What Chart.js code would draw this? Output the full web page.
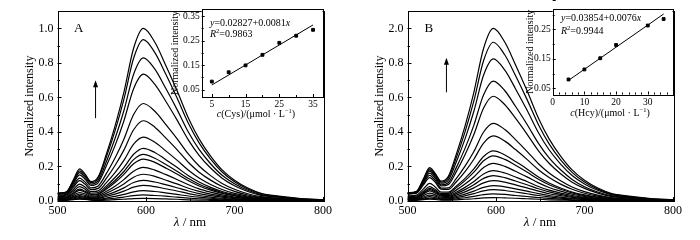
<!DOCTYPE html>
<html>
<head>
<meta charset="utf-8">
<script src="https://cdn.jsdelivr.net/npm/chart.js@4.4.1/dist/chart.umd.min.js"></script>
<style>
  body { margin: 0; background: #fff; }
  #wrap { position: relative; width: 700px; height: 240px; }
  canvas { position: absolute; top: 0; }
</style>
</head>
<body>
<div id="wrap">
  <canvas id="mainA" width="350" height="240" style="left:0"></canvas>
  <canvas id="mainB" width="350" height="240" style="left:350px"></canvas>
  <canvas id="insetA" width="180" height="120" style="left:150px"></canvas>
  <canvas id="insetB" width="180" height="120" style="left:500px"></canvas>
</div>
<script>
// emission wavelengths (nm), shared by every spectrum
const wavelength = [500, 510, 518, 525, 531, 538, 546, 555, 565, 575, 586, 597, 610, 622, 635, 648, 660, 673, 686, 700, 715, 730, 750, 775, 800];

// panel A: spectra with increasing Cys
const spectraCys = [
  [0.045,0.052,0.123,0.186,0.157,0.112,0.140,0.268,0.434,0.629,0.885,1.000,0.920,0.790,0.640,0.480,0.360,0.260,0.180,0.120,0.075,0.045,0.028,0.014,0.007],
  [0.045,0.052,0.117,0.175,0.148,0.106,0.132,0.252,0.406,0.589,0.827,0.935,0.860,0.739,0.598,0.449,0.337,0.243,0.168,0.112,0.070,0.042,0.026,0.013,0.007],
  [0.044,0.050,0.110,0.164,0.137,0.098,0.119,0.225,0.362,0.523,0.735,0.830,0.764,0.656,0.531,0.398,0.299,0.216,0.149,0.100,0.062,0.037,0.023,0.012,0.006],
  [0.042,0.048,0.102,0.151,0.127,0.090,0.107,0.201,0.321,0.464,0.651,0.735,0.676,0.581,0.470,0.353,0.265,0.191,0.132,0.088,0.055,0.033,0.021,0.010,0.005],
  [0.040,0.045,0.091,0.133,0.111,0.076,0.087,0.157,0.249,0.358,0.501,0.565,0.520,0.446,0.362,0.271,0.203,0.147,0.102,0.068,0.042,0.025,0.016,0.008,0.004],
  [0.035,0.039,0.081,0.118,0.098,0.066,0.073,0.130,0.206,0.295,0.413,0.465,0.428,0.367,0.298,0.223,0.167,0.121,0.084,0.056,0.035,0.021,0.013,0.007,0.003],
  [0.030,0.034,0.067,0.098,0.081,0.054,0.059,0.105,0.164,0.235,0.329,0.370,0.340,0.292,0.237,0.178,0.133,0.096,0.067,0.044,0.028,0.017,0.010,0.005,0.003],
  [0.025,0.028,0.057,0.083,0.069,0.045,0.049,0.086,0.136,0.194,0.271,0.305,0.281,0.241,0.195,0.146,0.110,0.079,0.055,0.037,0.023,0.014,0.009,0.004,0.002],
  [0.020,0.023,0.047,0.069,0.057,0.038,0.042,0.076,0.119,0.171,0.240,0.270,0.248,0.213,0.173,0.130,0.097,0.070,0.049,0.032,0.020,0.012,0.008,0.004,0.002],
  [0.018,0.020,0.042,0.062,0.051,0.034,0.038,0.068,0.107,0.154,0.216,0.243,0.224,0.192,0.156,0.117,0.087,0.063,0.044,0.029,0.018,0.011,0.007,0.003,0.002],
  [0.015,0.017,0.034,0.049,0.041,0.028,0.031,0.055,0.086,0.124,0.173,0.195,0.179,0.154,0.125,0.094,0.070,0.051,0.035,0.023,0.015,0.009,0.005,0.003,0.001],
  [0.012,0.013,0.027,0.039,0.033,0.022,0.025,0.044,0.069,0.099,0.138,0.155,0.143,0.122,0.099,0.074,0.056,0.040,0.028,0.019,0.012,0.007,0.004,0.002,0.001],
  [0.010,0.011,0.022,0.031,0.026,0.018,0.019,0.034,0.053,0.076,0.107,0.120,0.110,0.095,0.077,0.058,0.043,0.031,0.022,0.014,0.009,0.005,0.003,0.002,0.001],
  [0.008,0.009,0.018,0.025,0.021,0.014,0.015,0.026,0.040,0.057,0.080,0.090,0.083,0.071,0.058,0.043,0.032,0.023,0.016,0.011,0.007,0.004,0.003,0.001,0.001],
  [0.006,0.007,0.013,0.019,0.016,0.010,0.010,0.017,0.027,0.038,0.053,0.060,0.055,0.047,0.038,0.029,0.022,0.016,0.011,0.007,0.005,0.003,0.002,0.001,0.000],
  [0.005,0.006,0.010,0.014,0.012,0.007,0.007,0.011,0.016,0.023,0.031,0.035,0.032,0.028,0.022,0.017,0.013,0.009,0.006,0.004,0.003,0.002,0.001,0.000,0.000],
  [0.004,0.004,0.008,0.011,0.009,0.005,0.004,0.005,0.008,0.010,0.014,0.015,0.014,0.012,0.010,0.007,0.005,0.004,0.003,0.002,0.001,0.001,0.000,0.000,0.000]
];

// panel B: spectra with increasing Hcy
const spectraHcy = [
  [0.048,0.055,0.128,0.193,0.162,0.115,0.141,0.269,0.434,0.630,0.885,1.000,0.920,0.790,0.640,0.480,0.360,0.260,0.180,0.120,0.075,0.045,0.028,0.014,0.007],
  [0.047,0.054,0.124,0.187,0.156,0.109,0.132,0.249,0.401,0.580,0.814,0.920,0.846,0.727,0.589,0.442,0.331,0.239,0.166,0.110,0.069,0.041,0.026,0.013,0.006],
  [0.046,0.053,0.120,0.180,0.150,0.103,0.120,0.224,0.360,0.520,0.730,0.824,0.758,0.651,0.527,0.396,0.297,0.214,0.148,0.099,0.062,0.037,0.023,0.012,0.006],
  [0.045,0.052,0.116,0.173,0.143,0.094,0.106,0.192,0.305,0.440,0.616,0.695,0.639,0.549,0.445,0.334,0.250,0.181,0.125,0.083,0.052,0.031,0.019,0.010,0.005],
  [0.044,0.050,0.109,0.161,0.133,0.087,0.095,0.169,0.268,0.385,0.539,0.607,0.558,0.480,0.388,0.291,0.219,0.158,0.109,0.073,0.046,0.027,0.017,0.008,0.004],
  [0.042,0.048,0.101,0.148,0.121,0.075,0.076,0.129,0.202,0.287,0.400,0.450,0.414,0.356,0.288,0.216,0.162,0.117,0.081,0.054,0.034,0.020,0.013,0.006,0.003],
  [0.040,0.045,0.093,0.136,0.111,0.068,0.067,0.110,0.170,0.242,0.336,0.377,0.347,0.298,0.241,0.181,0.136,0.098,0.068,0.045,0.028,0.017,0.011,0.005,0.003],
  [0.030,0.034,0.070,0.102,0.083,0.051,0.051,0.085,0.131,0.186,0.258,0.290,0.267,0.229,0.186,0.139,0.104,0.075,0.052,0.035,0.022,0.013,0.008,0.004,0.002],
  [0.025,0.028,0.057,0.083,0.068,0.043,0.044,0.076,0.118,0.167,0.233,0.262,0.241,0.207,0.168,0.126,0.094,0.068,0.047,0.031,0.020,0.012,0.007,0.004,0.002],
  [0.020,0.023,0.049,0.073,0.060,0.037,0.037,0.063,0.098,0.139,0.194,0.218,0.201,0.172,0.140,0.105,0.078,0.057,0.039,0.026,0.016,0.010,0.006,0.003,0.002],
  [0.018,0.021,0.045,0.066,0.054,0.032,0.031,0.051,0.079,0.113,0.157,0.176,0.162,0.139,0.113,0.084,0.063,0.046,0.032,0.021,0.013,0.008,0.005,0.002,0.001],
  [0.015,0.017,0.039,0.059,0.047,0.028,0.026,0.043,0.066,0.094,0.131,0.147,0.135,0.116,0.094,0.071,0.053,0.038,0.026,0.018,0.011,0.007,0.004,0.002,0.001],
  [0.012,0.014,0.031,0.046,0.037,0.022,0.021,0.034,0.053,0.076,0.105,0.118,0.109,0.093,0.076,0.057,0.042,0.031,0.021,0.014,0.009,0.005,0.003,0.002,0.001],
  [0.010,0.011,0.023,0.034,0.028,0.017,0.016,0.026,0.040,0.057,0.079,0.089,0.082,0.070,0.057,0.043,0.032,0.023,0.016,0.011,0.007,0.004,0.002,0.001,0.001],
  [0.008,0.009,0.017,0.025,0.020,0.013,0.012,0.020,0.030,0.043,0.059,0.066,0.061,0.052,0.042,0.032,0.024,0.017,0.012,0.008,0.005,0.003,0.002,0.001,0.000],
  [0.006,0.007,0.012,0.017,0.014,0.009,0.008,0.013,0.019,0.027,0.037,0.041,0.038,0.032,0.026,0.020,0.015,0.011,0.007,0.005,0.003,0.002,0.001,0.001,0.000],
  [0.004,0.004,0.008,0.011,0.009,0.005,0.005,0.007,0.010,0.013,0.018,0.020,0.018,0.016,0.013,0.010,0.007,0.005,0.004,0.002,0.002,0.001,0.001,0.000,0.000]
];

// insets: intensity vs concentration (umol/L) and the fitted line
const concCys = [5, 10, 15, 20, 25, 30, 35];
const intensityCys = [0.083, 0.121, 0.149, 0.192, 0.241, 0.270, 0.294];
const concHcy = [5, 10, 15, 20, 30, 35];
const intensityHcy = [0.080, 0.114, 0.152, 0.197, 0.263, 0.285];
const fitConc = [5, 35];
const fitCys = [0.069, 0.314];
const fitHcy = [0.077, 0.302];

// ticks
const mainXTicks = [500, 600, 700, 800];
const mainXMinor = [550, 650, 750];
const mainYTicks = [0, 0.2, 0.4, 0.6, 0.8, 1.0];
const mainYMinor = [0.1, 0.3, 0.5, 0.7, 0.9];
const mainYLabelsA = ['0.0', '0.2', '0.4', '0.6', '0.8', '1.0'];
const mainYLabelsB = ['0.0', '0.2', '0.4', '0.6', '0.8', '2.0'];
const insetYTicks = [0.05, 0.15, 0.25, 0.35];
const insetYMinor = [0.1, 0.2, 0.3];
const insetXTicksA = [5, 15, 25, 35];
const insetXMinorA = [10, 20, 30];
const insetXTicksB = [0, 10, 20, 30];
const insetXMinorB = [2, 4, 6, 8, 12, 14, 16, 18, 22, 24, 26, 28, 32, 34, 36];

const serif = "'Liberation Serif', 'Times New Roman', serif";

function drawRuns(ctx, x, y, runs, size, align) {
  const fontOf = r => (r.it ? 'italic ' : '') + (r.sup ? size * 0.65 : size) + 'px ' + serif;
  let total = 0;
  runs.forEach(r => { ctx.font = fontOf(r); total += ctx.measureText(r.t).width; });
  let cx = align === 'center' ? x - total / 2 : x;
  ctx.textAlign = 'left';
  ctx.textBaseline = 'alphabetic';
  ctx.fillStyle = '#000';
  runs.forEach(r => {
    ctx.font = fontOf(r);
    ctx.fillText(r.t, cx, r.sup ? y - size * 0.4 : y);
    cx += ctx.measureText(r.t).width;
  });
}

// frame, inward ticks, arrow and text labels
const decor = {
  id: 'decor',
  beforeDraw(chart, args, o) {
    if (!o.fill) return;
    const a = chart.chartArea, ctx = chart.ctx;
    ctx.save();
    ctx.fillStyle = '#fff';
    ctx.fillRect(a.left, a.top, a.right - a.left, a.bottom - a.top);
    ctx.restore();
  },
  afterDraw(chart, args, o) {
    const {ctx, chartArea: a, scales: {x, y}} = chart;
    ctx.save();
    ctx.strokeStyle = '#000';
    ctx.lineWidth = 1;
    ctx.strokeRect(Math.round(a.left) + 0.5, Math.round(a.top) + 0.5,
      Math.round(a.right - a.left), Math.round(a.bottom - a.top));
    const tick = (vals, len, axis) => vals.forEach(v => {
      ctx.beginPath();
      if (axis === 'x') {
        const px = Math.round(x.getPixelForValue(v)) + 0.5;
        ctx.moveTo(px, a.bottom); ctx.lineTo(px, a.bottom - len);
      } else {
        const py = Math.round(y.getPixelForValue(v)) + 0.5;
        ctx.moveTo(a.left, py); ctx.lineTo(a.left + len, py);
      }
      ctx.stroke();
    });
    tick(o.xMajor, o.major, 'x'); tick(o.xMinor, o.minor, 'x');
    tick(o.yMajor, o.major, 'y'); tick(o.yMinor, o.minor, 'y');
    if (o.arrow) {
      const ax = x.getPixelForValue(o.arrow.x);
      const y0 = y.getPixelForValue(o.arrow.from), y1 = y.getPixelForValue(o.arrow.to);
      ctx.beginPath(); ctx.moveTo(ax, y0); ctx.lineTo(ax, y1 + 5); ctx.stroke();
      ctx.beginPath(); ctx.moveTo(ax, y1); ctx.lineTo(ax - 2.5, y1 + 7); ctx.lineTo(ax + 2.5, y1 + 7);
      ctx.closePath(); ctx.fillStyle = '#000'; ctx.fill();
    }
    if (o.letter) {
      ctx.font = '13px ' + serif; ctx.fillStyle = '#000';
      ctx.textAlign = 'center'; ctx.textBaseline = 'middle';
      ctx.fillText(o.letter.t, x.getPixelForValue(o.letter.x), y.getPixelForValue(o.letter.y));
    }
    (o.texts || []).forEach(t => drawRuns(ctx, t.x, t.y, t.runs, t.size, t.align));
    ctx.restore();
  }
};

function mainChart(id, spectra, yLabels, letter, arrow) {
  return new Chart(document.getElementById(id), {
    type: 'line',
    data: {
      datasets: spectra.map(s => ({
        data: s.map((v, i) => ({x: wavelength[i], y: v})),
        borderColor: '#000',
        borderWidth: 1.2,
        pointRadius: 0,
        fill: false,
        cubicInterpolationMode: 'monotone'
      }))
    },
    options: {
      responsive: false,
      animation: false,
      devicePixelRatio: 1,
      layout: {padding: {left: 0, top: 9, right: 27, bottom: 0}},
      plugins: {
        legend: {display: false},
        tooltip: {enabled: false},
        decor: {
          xMajor: mainXTicks, xMinor: mainXMinor, yMajor: mainYTicks, yMinor: mainYMinor,
          major: 4, minor: 2.5, letter: letter, arrow: arrow,
          texts: [{x: 190, y: 226, size: 13, align: 'center', runs: [{t: 'λ', it: true}, {t: ' / nm'}]}]
        }
      },
      scales: {
        x: {
          type: 'linear', min: 500, max: 800,
          afterBuildTicks: s => { s.ticks = mainXTicks.map(v => ({value: v})); },
          afterFit: s => { s.height = 39; },
          ticks: {font: {family: serif, size: 12}, color: '#000', padding: 3, maxRotation: 0, autoSkip: false},
          grid: {drawOnChartArea: false, drawTicks: false},
          border: {display: false}
        },
        y: {
          min: 0, max: 1.1,
          afterBuildTicks: s => { s.ticks = mainYTicks.map(v => ({value: v})); },
          afterFit: s => { s.width = 57.5; },
          ticks: {font: {family: serif, size: 12}, color: '#000', padding: 4, callback: (v, i) => yLabels[i]},
          grid: {drawOnChartArea: false, drawTicks: false},
          border: {display: false},
          title: {display: true, text: 'Normalized intensity', color: '#000',
            font: {family: serif, size: 12}, padding: {top: 23, bottom: 0}}
        }
      }
    },
    plugins: [decor]
  });
}

function insetChart(id, conc, vals, fit, yRange, xRange, xTicks, xMinor, axisW, axisH, titlePad, texts) {
  return new Chart(document.getElementById(id), {
    type: 'scatter',
    data: {
      datasets: [
        {
          data: conc.map((c, i) => ({x: c, y: vals[i]})),
          pointStyle: 'rect', pointRadius: 2, backgroundColor: '#000', borderColor: '#000', showLine: false
        },
        {
          data: fitConc.map((c, i) => ({x: c, y: fit[i]})),
          showLine: true, borderColor: '#000', borderWidth: 1, pointRadius: 0
        }
      ]
    },
    options: {
      responsive: false,
      animation: false,
      devicePixelRatio: 1,
      layout: {padding: {left: 0, top: 9, right: 7.5, bottom: 0}},
      plugins: {
        legend: {display: false},
        tooltip: {enabled: false},
        decor: {
          fill: true, xMajor: xTicks, xMinor: xMinor, yMajor: insetYTicks, yMinor: insetYMinor,
          major: 3, minor: 2, texts: texts
        }
      },
      scales: {
        x: {
          type: 'linear', min: xRange[0], max: xRange[1],
          afterBuildTicks: s => { s.ticks = xTicks.map(v => ({value: v})); },
          afterFit: s => { s.height = axisH; },
          ticks: {font: {family: serif, size: 9.5}, color: '#000', padding: 2, maxRotation: 0, autoSkip: false},
          grid: {drawOnChartArea: false, drawTicks: false},
          border: {display: false}
        },
        y: {
          min: yRange[0], max: yRange[1],
          afterBuildTicks: s => { s.ticks = insetYTicks.filter(v => v <= yRange[1]).map(v => ({value: v})); },
          afterFit: s => { s.width = axisW; },
          ticks: {font: {family: serif, size: 9.5}, color: '#000', padding: 2, callback: v => v.toFixed(2)},
          grid: {drawOnChartArea: false, drawTicks: false},
          border: {display: false},
          title: {display: true, text: 'Normalized intensity', color: '#000',
            font: {family: serif, size: 10}, padding: {top: titlePad, bottom: 0}}
        }
      }
    },
    plugins: [decor]
  });
}

mainChart('mainA', spectraCys, mainYLabelsA, {t: 'A', x: 524, y: 1.0}, {x: 543, from: 0.48, to: 0.70});
mainChart('mainB', spectraHcy, mainYLabelsB, {t: 'B', x: 524, y: 1.0}, {x: 544, from: 0.63, to: 0.83});

insetChart('insetA', concCys, intensityCys, fitCys, [0.02, 0.379], [2, 37.8],
  insetXTicksA, insetXMinorA, 51.7, 23, 19.5, [
    {x: 60, y: 26, size: 10, runs: [{t: 'y', it: true}, {t: '=0.02827+0.0081'}, {t: 'x', it: true}]},
    {x: 60, y: 37, size: 10, runs: [{t: 'R', it: true}, {t: '2', sup: true}, {t: '=0.9863'}]},
    {x: 106, y: 117, size: 10, align: 'center', runs: [{t: 'c', it: true}, {t: '(Cys)/(μmol · L'}, {t: '−1', sup: true}, {t: ')'}]}
  ]);
insetChart('insetB', concHcy, intensityHcy, fitHcy, [0.029, 0.319], [0, 37.8],
  insetXTicksB, insetXMinorB, 52.7, 25.5, 24, [
    {x: 61, y: 21, size: 10, runs: [{t: 'y', it: true}, {t: '=0.03854+0.0076'}, {t: 'x', it: true}]},
    {x: 61, y: 34, size: 10, runs: [{t: 'R', it: true}, {t: '2', sup: true}, {t: '=0.9944'}]},
    {x: 110, y: 116, size: 10, align: 'center', runs: [{t: 'c', it: true}, {t: '(Hcy)/(μmol · L'}, {t: '−1', sup: true}, {t: ')'}]}
  ]);
</script>
</body>
</html>
